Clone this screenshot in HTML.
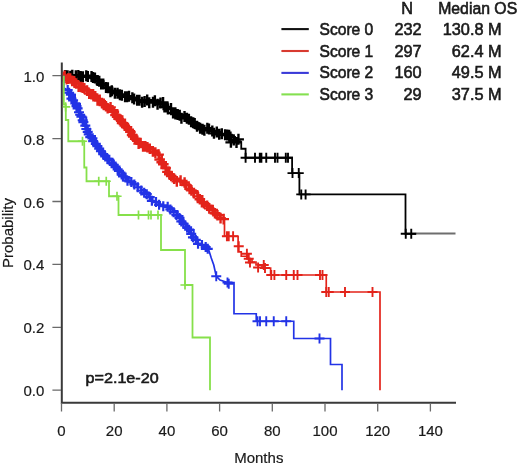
<!DOCTYPE html>
<html><head><meta charset="utf-8"><style>
html,body{margin:0;padding:0;background:#fff;}
body{width:520px;height:466px;overflow:hidden;font-family:"Liberation Sans",sans-serif;}
svg{display:block;filter:blur(0.45px);}
</style></head><body>
<svg width="520" height="466" viewBox="0 0 520 466">
<path d="M61.8 62.6V402.8H456" fill="none" stroke="#3a3a3a" stroke-width="2"/>
<path d="M52.4 75.7H61M52.4 138.6H61M52.4 201.5H61M52.4 264.4H61M52.4 327.3H61M52.4 390.2H61M61.5 403V411.5M114.2 403V411.5M166.9 403V411.5M219.6 403V411.5M272.3 403V411.5M325 403V411.5M377.7 403V411.5M430.4 403V411.5" stroke="#6a6a6a" stroke-width="1.3" fill="none"/>
<defs><clipPath id="pc"><rect x="62.8" y="60" width="400" height="340"/></clipPath></defs><g clip-path="url(#pc)">
<path d="M62.5 75.7 L65.62 75.7 L65.62 75.75 L68.75 75.75 L68.75 75.8 L71.88 75.8 L71.88 75.85 L75 75.85 L75 75.9 L78.4 75.9 L78.4 76.04 L81.8 76.04 L81.8 76.18 L85.2 76.18 L85.2 76.32 L88.6 76.32 L88.6 76.46 L92 76.46 L92 76.6 L97.5 76.6 L97.5 80.5 L103 80.5 L103 85.5 L106.5 85.5 L106.5 88 L110 88 L110 90.5 L113.5 90.5 L113.5 92 L117 92 L117 93.5 L121 93.5 L121 94.55 L125 94.55 L125 95.6 L128.67 95.6 L128.67 96.87 L132.33 96.87 L132.33 98.13 L136 98.13 L136 99.4 L139 99.4 L139 100.23 L142 100.23 L142 101.07 L145 101.07 L145 101.9 L148.33 101.9 L148.33 101.9 L151.67 101.9 L151.67 101.9 L155 101.9 L155 101.9 L158.75 101.9 L158.75 102.6 L162.5 102.6 L162.5 103.3 L167.5 103.3 L167.5 108.5 L171.25 108.5 L171.25 110.8 L175 110.8 L175 113.1 L178.75 113.1 L178.75 115.05 L182.5 115.05 L182.5 117 L187.5 117 L187.5 118.5 L190.62 118.5 L190.62 121 L193.75 121 L193.75 123.5 L198.75 123.5 L198.75 126.9 L203.12 126.9 L203.12 128.45 L207.5 128.45 L207.5 130 L211.25 130 L211.25 131.55 L215 131.55 L215 133.1 L218.5 133.1 L218.5 133.9 L222 133.9 L222 134.7 L225.75 134.7 L225.75 134.95 L229.5 134.95 L229.5 135.2 L231.5 135.2 L231.5 141.2 L234.75 141.2 L234.75 141.2 L238 141.2 L238 141.2 L241.25 141.2 L241.25 141.2" fill="none" stroke="#000000" stroke-width="2.0" stroke-linejoin="miter" stroke-linecap="butt"/>
<path d="M56.56 76.12h11M62.06 70.62v11M59.74 75.44h11M65.24 69.94v11M62.03 75.72h11M67.53 70.22v11M64.84 76.17h11M70.34 70.67v11M66.79 75.3h11M72.29 69.8v11M70.3 75.84h11M75.8 70.34v11M72.81 75.43h11M78.31 69.93v11M75.03 76.4h11M80.53 70.9v11M77.37 76.77h11M82.87 71.27v11M80.78 75.78h11M86.28 70.28v11M82.33 76.5h11M87.83 71v11M86.03 76.42h11M91.53 70.92v11M87.49 77.45h11M92.99 71.95v11M89.43 78.02h11M94.93 72.52v11M92.07 80.62h11M97.57 75.12v11M93.76 81.37h11M99.26 75.87v11M95.68 84h11M101.18 78.5v11M97.74 84.03h11M103.24 78.53v11M100.51 87.57h11M106.01 82.07v11M102.39 87.68h11M107.89 82.18v11M104.93 91.75h11M110.43 86.25v11M106.26 90.81h11M111.76 85.31v11M109.37 93.28h11M114.87 87.78v11M112.02 93.2h11M117.52 87.7v11M114.43 94.81h11M119.93 89.31v11M116.34 95.16h11M121.84 89.66v11M119.57 96.81h11M125.07 91.31v11M121.59 96.66h11M127.09 91.16v11M123.49 96.19h11M128.99 90.69v11M126.87 97.7h11M132.37 92.2v11M128.59 99.06h11M134.09 93.56v11M131.72 100.33h11M137.22 94.83v11M133.87 100.15h11M139.37 94.65v11M136.58 102.14h11M142.08 96.64v11M139.13 101.39h11M144.63 95.89v11M141.69 100.11h11M147.19 94.61v11M143.75 102.67h11M149.25 97.17v11M147.48 102.25h11M152.98 96.75v11M149.37 100.65h11M154.87 95.15v11M152.07 104.21h11M157.57 98.71v11M154.96 103.01h11M160.46 97.51v11M157.57 102.43h11M163.07 96.93v11M158.96 107.04h11M164.46 101.54v11M160.84 107.04h11M166.34 101.54v11M162.42 109.11h11M167.92 103.61v11M165.51 108.44h11M171.01 102.94v11M167.57 112.93h11M173.07 107.43v11M169.96 114.01h11M175.46 108.51v11M172.19 114.38h11M177.69 108.88v11M174.22 115.23h11M179.72 109.73v11M175.93 118.13h11M181.43 112.63v11M179.01 116.44h11M184.51 110.94v11M181.43 118.27h11M186.93 112.77v11M183.39 119.17h11M188.89 113.67v11M185.64 121.84h11M191.14 116.34v11M187.76 122.84h11M193.26 117.34v11M189.18 123.49h11M194.68 117.99v11M191.53 126.31h11M197.03 120.81v11M194.63 128.37h11M200.13 122.87v11M197.03 129.32h11M202.53 123.82v11M198.85 130.29h11M204.35 124.79v11M201.83 128.28h11M207.33 122.78v11M203.48 129.01h11M208.98 123.51v11M206.81 130.91h11M212.31 125.41v11M208.47 133.34h11M213.97 127.84v11M211.31 131.92h11M216.81 126.42v11M213.69 134.26h11M219.19 128.76v11M216.3 133.85h11M221.8 128.35v11M219.59 134.72h11M225.09 129.22v11M221.76 134.97h11M227.26 129.47v11M223.62 135.35h11M229.12 129.85v11M224.94 137.11h11M230.44 131.61v11M225.4 142.33h11M230.9 136.83v11M228.25 140.09h11M233.75 134.59v11M231 142.4h11M236.5 136.9v11M232.94 139.37h11M238.44 133.87v11" fill="none" stroke="#000000" stroke-width="2.4"/>
<path d="M241.25 141.2 L241.25 148.75 L245.6 148.75 L245.6 157.75 L292.1 157.75 L292.1 173.1 L299.4 173.1 L299.4 194.4 L405.5 194.4 L405.5 233.75 L416 233.75" fill="none" stroke="#000000" stroke-width="1.8" stroke-linejoin="miter" stroke-linecap="butt"/>
<path d="M416 233.6 L455.5 233.6" fill="none" stroke="#6e6e6e" stroke-width="2.0" stroke-linejoin="miter" stroke-linecap="butt"/>
<path d="M240.6 157.75h10M245.6 152.75v10M250 157.75h10M255 152.75v10M254.8 157.75h10M259.8 152.75v10M256.4 157.75h10M261.4 152.75v10M261.25 157.75h10M266.25 152.75v10M270 157.75h10M275 152.75v10M272.5 157.75h10M277.5 152.75v10M280.8 157.75h10M285.8 152.75v10M283 157.75h10M288 152.75v10M287.5 173.1h10M292.5 168.1v10M293.75 173.1h10M298.75 168.1v10M296.25 194.4h10M301.25 189.4v10M300.6 194.4h10M305.6 189.4v10M400.75 233.75h10M405.75 228.75v10M406.25 233.75h10M411.25 228.75v10" fill="none" stroke="#000000" stroke-width="1.9"/>
<path d="M63 76 L66.5 76 L66.5 77.5 L70 77.5 L70 79 L75 79 L75 83 L80 83 L80 86.5 L83.33 86.5 L83.33 88.67 L86.67 88.67 L86.67 90.83 L90 90.83 L90 93 L93.33 93 L93.33 95.67 L96.67 95.67 L96.67 98.33 L100 98.33 L100 101 L105 101 L105 105 L108.75 105 L108.75 107.5 L112.5 107.5 L112.5 110 L117.5 110 L117.5 116.25 L122.5 116.25 L122.5 122.5 L125.62 122.5 L125.62 126.75 L128.75 126.75 L128.75 131 L134 131 L134 137.5 L137 137.5 L137 140.7 L140 140.7 L140 143.9 L143 143.9 L143 145.95 L146 145.95 L146 148 L150 148 L150 149.5 L154 149.5 L154 150.5 L158 150.5 L158 155 L162 155 L162 162 L166 162 L166 167.5 L169 167.5 L169 172.25 L172 172.25 L172 177 L174 177 L174 180 L177 180 L177 180.75 L180 180.75 L180 181.5 L183 181.5 L183 183 L186 183 L186 184.5 L189 184.5 L189 187.75 L192 187.75 L192 191 L197.5 191 L197.5 196 L202.5 196 L202.5 203 L205.62 203 L205.62 205.25 L208.75 205.25 L208.75 207.5 L211.88 207.5 L211.88 210.62 L215 210.62 L215 213.75 L220 213.75 L220 218.75 L223.75 218.75 L223.75 219.4" fill="none" stroke="#e3231a" stroke-width="2.0" stroke-linejoin="miter" stroke-linecap="butt"/>
<path d="M58.25 77.25h10.6M63.55 71.95v10.6M59.38 75.79h10.6M64.68 70.49v10.6M62.71 78.63h10.6M68.01 73.33v10.6M64.9 78.46h10.6M70.2 73.16v10.6M66.86 80.92h10.6M72.16 75.62v10.6M68.86 81.29h10.6M74.16 75.99v10.6M70.78 83.52h10.6M76.08 78.22v10.6M73.3 86.72h10.6M78.6 81.42v10.6M75.75 86.95h10.6M81.05 81.65v10.6M77.35 87.61h10.6M82.65 82.31v10.6M79.06 88.37h10.6M84.36 83.07v10.6M81.78 90.62h10.6M87.08 85.32v10.6M83.88 93.66h10.6M89.18 88.36v10.6M86.14 94.29h10.6M91.44 88.99v10.6M87.82 94.42h10.6M93.12 89.12v10.6M89.96 96.36h10.6M95.26 91.06v10.6M92.21 100.4h10.6M97.51 95.1v10.6M94.44 99.73h10.6M99.74 94.43v10.6M96.73 103.08h10.6M102.03 97.78v10.6M98.58 105.01h10.6M103.88 99.71v10.6M100.68 106.26h10.6M105.98 100.96v10.6M102.36 108.24h10.6M107.66 102.94v10.6M105.25 107.38h10.6M110.55 102.08v10.6M107.17 110.38h10.6M112.47 105.08v10.6M108.53 111.8h10.6M113.83 106.5v10.6M110.19 114.94h10.6M115.49 109.64v10.6M111.83 116.71h10.6M117.13 111.41v10.6M113.27 118.88h10.6M118.57 113.58v10.6M115.55 119.73h10.6M120.85 114.43v10.6M116.78 123.05h10.6M122.08 117.75v10.6M118.55 123.93h10.6M123.85 118.63v10.6M119.51 125.61h10.6M124.81 120.31v10.6M121.65 127.29h10.6M126.95 121.99v10.6M123.46 129.7h10.6M128.76 124.4v10.6M125.1 131.89h10.6M130.4 126.59v10.6M126.82 135.07h10.6M132.12 129.77v10.6M127.94 136.6h10.6M133.24 131.3v10.6M129.86 138.79h10.6M135.16 133.49v10.6M131.26 139.66h10.6M136.56 134.36v10.6M133.32 143.63h10.6M138.62 138.33v10.6M135.35 143.05h10.6M140.65 137.75v10.6M137.75 146.35h10.6M143.05 141.05v10.6M140.02 146.34h10.6M145.32 141.04v10.6M142.14 147.19h10.6M147.44 141.89v10.6M144.5 148.72h10.6M149.8 143.42v10.6M147.57 151.35h10.6M152.87 146.05v10.6M150.09 152.66h10.6M155.39 147.36v10.6M153.32 154.64h10.6M158.62 149.34v10.6M154.35 159.57h10.6M159.65 154.27v10.6M156.41 162.26h10.6M161.71 156.96v10.6M158.02 164.2h10.6M163.32 158.9v10.6M160.31 167.98h10.6M165.61 162.68v10.6M162.13 171.83h10.6M167.43 166.53v10.6M163.99 174.25h10.6M169.29 168.95v10.6M165.91 175.98h10.6M171.21 170.68v10.6M168.85 178.71h10.6M174.15 173.41v10.6M171.52 181.34h10.6M176.82 176.04v10.6M175.29 180.58h10.6M180.59 175.28v10.6M179.29 182.52h10.6M184.59 177.22v10.6M181.1 185.1h10.6M186.4 179.8v10.6M184.25 188.87h10.6M189.55 183.57v10.6M186.1 190.4h10.6M191.4 185.1v10.6M188.66 193.15h10.6M193.96 187.85v10.6M192.22 196.4h10.6M197.52 191.1v10.6M194.54 199.32h10.6M199.84 194.02v10.6M196.59 202.11h10.6M201.89 196.81v10.6M198.65 203.3h10.6M203.95 198v10.6M201.83 205.68h10.6M207.13 200.38v10.6M203.97 208.35h10.6M209.27 203.05v10.6M207.45 210.01h10.6M212.75 204.71v10.6M209.66 213.31h10.6M214.96 208.01v10.6M212.15 215.18h10.6M217.45 209.88v10.6M215.25 218.08h10.6M220.55 212.78v10.6M218.38 219.14h10.6M223.68 213.84v10.6" fill="none" stroke="#e3231a" stroke-width="2.4"/>
<path d="M224.5 219.4 L224.5 236.25 L238.1 236.25 L238.1 251.9 L241.25 251.9 L241.25 256.25 L247 256.25 L247 259 L252 259 L252 262 L256 262 L256 265 L262 265 L262 268 L270.6 268 L270.6 275 L326.25 275 L326.25 292 L380 292 L380 390.2" fill="none" stroke="#e3231a" stroke-width="1.7" stroke-linejoin="miter" stroke-linecap="butt"/>
<path d="M61.5 79.5h10M66.5 74.5v10M59.5 78h10M64.5 73v10M221.9 236.25h10M226.9 231.25v10M223.75 236.25h10M228.75 231.25v10M228.1 236.25h10M233.1 231.25v10M233.75 246.25h10M238.75 241.25v10M241.9 253.75h10M246.9 248.75v10M243.75 258.75h10M248.75 253.75v10M245 262.5h10M250 257.5v10M253.1 267.5h10M258.1 262.5v10M258.75 265h10M263.75 260v10M260 268h10M265 263v10M266.25 275h10M271.25 270v10M269.4 275h10M274.4 270v10M281.25 275h10M286.25 270v10M288.75 275h10M293.75 270v10M292.5 275h10M297.5 270v10M315 275h10M320 270v10M317.5 275h10M322.5 270v10M321.25 292h10M326.25 287v10M323.75 292h10M328.75 287v10M340 292h10M345 287v10M367.5 292h10M372.5 287v10" fill="none" stroke="#e3231a" stroke-width="1.9"/>
<path d="M63.8 75.7 L63.8 88 L68 90" fill="none" stroke="#2233e6" stroke-width="1.8" stroke-linejoin="miter" stroke-linecap="butt"/>
<path d="M68 90 L70.5 90 L70.5 95 L75 95 L75 104 L80 104 L80 114 L81.25 114 L81.25 117.5 L86.25 117.5 L86.25 128.75 L90 128.75 L90 136 L95 136 L95 143.75 L98.12 143.75 L98.12 147.5 L101.25 147.5 L101.25 151.25 L104.38 151.25 L104.38 155 L107.5 155 L107.5 158.75 L112.5 158.75 L112.5 163.75 L116.25 163.75 L116.25 168.12 L120 168.12 L120 172.5 L124.38 172.5 L124.38 176.88 L128.75 176.88 L128.75 181.25 L133.12 181.25 L133.12 184.38 L137.5 184.38 L137.5 187.5 L141.25 187.5 L141.25 190 L145 190 L145 192.5 L148.75 192.5 L148.75 196.88 L152.5 196.88 L152.5 201.25 L156.25 201.25 L156.25 202.82 L160 202.82 L160 204.4 L163.12 204.4 L163.12 205.32 L166.25 205.32 L166.25 206.25 L169.38 206.25 L169.38 208.62 L172.5 208.62 L172.5 211 L177.5 211 L177.5 216 L182.5 216 L182.5 222.5 L185.62 222.5 L185.62 226.25 L188.75 226.25 L188.75 230 L193.75 230 L193.75 237.5 L197.5 237.5 L197.5 243.75 L201.25 243.75 L201.25 245 L205 245 L205 246.25 L208.75 246.25 L208.75 250" fill="none" stroke="#2233e6" stroke-width="2.0" stroke-linejoin="miter" stroke-linecap="butt"/>
<path d="M62.69 90.07h10M67.69 85.07v10M64.14 92.76h10M69.14 87.76v10M65.83 94.66h10M70.83 89.66v10M66.45 98.6h10M71.45 93.6v10M68.09 100.33h10M73.09 95.33v10M70.32 103.41h10M75.32 98.41v10M71.49 106.14h10M76.49 101.14v10M72.62 108.35h10M77.62 103.35v10M73.98 112.23h10M78.98 107.23v10M75.17 114.77h10M80.17 109.77v10M76.39 116.61h10M81.39 111.61v10M77.71 120.23h10M82.71 115.23v10M78.39 122.1h10M83.39 117.1v10M80.3 125.57h10M85.3 120.57v10M81.35 128.99h10M86.35 123.99v10M82.73 131.78h10M87.73 126.78v10M83.75 134.31h10M88.75 129.31v10M85.26 137.2h10M90.26 132.2v10M87.41 138.39h10M92.41 133.39v10M88.15 141.11h10M93.15 136.11v10M90.82 143.96h10M95.82 138.96v10M92.37 146.09h10M97.37 141.09v10M94.18 148.57h10M99.18 143.57v10M95.94 151.23h10M100.94 146.23v10M98.17 154.08h10M103.17 149.08v10M100.24 156.47h10M105.24 151.47v10M102.41 158.91h10M107.41 153.91v10M104.28 159.78h10M109.28 154.78v10M106.65 163.21h10M111.65 158.21v10M108.78 164.78h10M113.78 159.78v10M110.52 166.51h10M115.52 161.51v10M112.63 169.39h10M117.63 164.39v10M113.95 170.88h10M118.95 165.88v10M116.72 174.57h10M121.72 169.57v10M117.95 176.42h10M122.95 171.42v10M120.49 177.54h10M125.49 172.54v10M122.5 180.68h10M127.5 175.68v10M126.34 182.05h10M131.34 177.05v10M129.34 184.41h10M134.34 179.41v10M132.76 187.23h10M137.76 182.23v10M136.29 190.49h10M141.29 185.49v10M139.17 192.74h10M144.17 187.74v10M141.75 194.13h10M146.75 189.13v10M144.72 197.12h10M149.72 192.12v10M146.87 200.8h10M151.87 195.8v10M151.01 202.12h10M156.01 197.12v10M154.08 204.83h10M159.08 199.83v10M158.29 206.17h10M163.29 201.17v10M162.69 206.79h10M167.69 201.79v10M165.37 209.45h10M170.37 204.45v10M168.67 212.15h10M173.67 207.15v10M171.43 215.05h10M176.43 210.05v10M174.49 217.91h10M179.49 212.91v10M176.32 221.43h10M181.32 216.43v10M178.62 223.9h10M183.62 218.9v10M182.11 227.38h10M187.11 222.38v10M184.14 229.72h10M189.14 224.72v10M186.2 233.96h10M191.2 228.96v10M187.95 237.35h10M192.95 232.35v10M190.78 239.92h10M195.78 234.92v10M193.04 243.82h10M198.04 238.82v10M196.95 244.92h10M201.95 239.92v10M200.68 247.06h10M205.68 242.06v10M202.74 248.86h10M207.74 243.86v10" fill="none" stroke="#2233e6" stroke-width="2.2"/>
<path d="M208.75 250 L211.25 258 L213.75 265 L216.25 276.25 L220 280 L227.5 282.5 L234 282.5 L234 313.75 L256.25 313.75 L256.25 321.25 L293.75 321.25 L293.75 338.5 L330.5 338.5 L330.5 364.5 L342 364.5 L342 390.2" fill="none" stroke="#2233e6" stroke-width="1.7" stroke-linejoin="miter" stroke-linecap="butt"/>
<path d="M211.25 276.25h10M216.25 271.25v10M222.5 282.5h10M227.5 277.5v10M223.75 283.75h10M228.75 278.75v10M252.5 321.25h10M257.5 316.25v10M255 321.25h10M260 316.25v10M261.25 321.25h10M266.25 316.25v10M268.75 321.25h10M273.75 316.25v10M281.25 321.25h10M286.25 316.25v10M314.5 338.5h10M319.5 333.5v10" fill="none" stroke="#2233e6" stroke-width="1.9"/>
<path d="M63.8 75.7 L63.8 104.5 L65.8 104.5 L65.8 120 L68.3 120 L68.3 141.25 L84.25 141.25 L84.25 167.5 L86.5 167.5 L86.5 181.25 L109 181.25 L109 196.25 L118.5 196.25 L118.5 215 L161 215 L161 250 L185 250 L185 285 L192.5 285 L192.5 337.5 L210 337.5 L210 390.2" fill="none" stroke="#86e04a" stroke-width="1.8" stroke-linejoin="miter" stroke-linecap="butt"/>
<path d="M61 106.9h9.2M65.6 102.3v9.2M77.9 141.25h9.2M82.5 136.65v9.2M94.15 181.25h9.2M98.75 176.65v9.2M101.65 181.25h9.2M106.25 176.65v9.2M112.4 196.25h9.2M117 191.65v9.2M133.9 215h9.2M138.5 210.4v9.2M143.9 215h9.2M148.5 210.4v9.2M146.4 215h9.2M151 210.4v9.2M153.4 215h9.2M158 210.4v9.2M180.4 285h9.2M185 280.4v9.2" fill="none" stroke="#86e04a" stroke-width="1.7"/>
</g>
<path d="M281.4 29.1H308.8" stroke="#111" stroke-width="2.1"/>
<path d="M281.4 51H308.8" stroke="#d83a30" stroke-width="2.1"/>
<path d="M281.4 72.9H308.8" stroke="#3a3ad8" stroke-width="2.1"/>
<path d="M281.4 94.4H308.8" stroke="#84e050" stroke-width="2.1"/>
<g fill="#1a1a1a" font-family="Liberation Sans, sans-serif">
<text x="44.3" y="81.7" text-anchor="end" font-size="15" stroke="#1a1a1a" stroke-width="0.2">1.0</text>
<text x="44.3" y="144.6" text-anchor="end" font-size="15" stroke="#1a1a1a" stroke-width="0.2">0.8</text>
<text x="44.3" y="207.5" text-anchor="end" font-size="15" stroke="#1a1a1a" stroke-width="0.2">0.6</text>
<text x="44.3" y="270.4" text-anchor="end" font-size="15" stroke="#1a1a1a" stroke-width="0.2">0.4</text>
<text x="44.3" y="333.3" text-anchor="end" font-size="15" stroke="#1a1a1a" stroke-width="0.2">0.2</text>
<text x="44.3" y="396.2" text-anchor="end" font-size="15" stroke="#1a1a1a" stroke-width="0.2">0.0</text>
<text x="61.5" y="436" text-anchor="middle" font-size="15" stroke="#1a1a1a" stroke-width="0.2">0</text>
<text x="114.2" y="436" text-anchor="middle" font-size="15" stroke="#1a1a1a" stroke-width="0.2">20</text>
<text x="166.9" y="436" text-anchor="middle" font-size="15" stroke="#1a1a1a" stroke-width="0.2">40</text>
<text x="219.6" y="436" text-anchor="middle" font-size="15" stroke="#1a1a1a" stroke-width="0.2">60</text>
<text x="272.3" y="436" text-anchor="middle" font-size="15" stroke="#1a1a1a" stroke-width="0.2">80</text>
<text x="325" y="436" text-anchor="middle" font-size="15" stroke="#1a1a1a" stroke-width="0.2">100</text>
<text x="377.7" y="436" text-anchor="middle" font-size="15" stroke="#1a1a1a" stroke-width="0.2">120</text>
<text x="430.4" y="436" text-anchor="middle" font-size="15" stroke="#1a1a1a" stroke-width="0.2">140</text>
<text x="258.8" y="463" text-anchor="middle" font-size="15" stroke="#1a1a1a" stroke-width="0.2">Months</text>
<text transform="translate(12.5 233) rotate(-90)" text-anchor="middle" font-size="15" stroke="#1a1a1a" stroke-width="0.2">Probability</text>
<text x="85.6" y="382.7" font-size="14" stroke="#1a1a1a" stroke-width="0.55" textLength="73" lengthAdjust="spacingAndGlyphs">p=2.1e-20</text>
<text x="407.2" y="13.9" text-anchor="middle" font-size="16.3" stroke="#1a1a1a" stroke-width="0.6">N</text>
<text x="438.2" y="13.9" font-size="16.3" stroke="#1a1a1a" stroke-width="0.6" textLength="79" lengthAdjust="spacingAndGlyphs">Median OS</text>
<text x="319.5" y="34.6" font-size="16.3" stroke="#1a1a1a" stroke-width="0.6" textLength="53.8" lengthAdjust="spacingAndGlyphs">Score 0</text>
<text x="421.6" y="34.6" text-anchor="end" font-size="16.3" stroke="#1a1a1a" stroke-width="0.6">232</text>
<text x="501.6" y="34.6" text-anchor="end" font-size="16.3" stroke="#1a1a1a" stroke-width="0.6">130.8 M</text>
<text x="319.5" y="56.5" font-size="16.3" stroke="#1a1a1a" stroke-width="0.6" textLength="53.8" lengthAdjust="spacingAndGlyphs">Score 1</text>
<text x="421.6" y="56.5" text-anchor="end" font-size="16.3" stroke="#1a1a1a" stroke-width="0.6">297</text>
<text x="501.6" y="56.5" text-anchor="end" font-size="16.3" stroke="#1a1a1a" stroke-width="0.6">62.4 M</text>
<text x="319.5" y="78.3" font-size="16.3" stroke="#1a1a1a" stroke-width="0.6" textLength="53.8" lengthAdjust="spacingAndGlyphs">Score 2</text>
<text x="421.6" y="78.3" text-anchor="end" font-size="16.3" stroke="#1a1a1a" stroke-width="0.6">160</text>
<text x="501.6" y="78.3" text-anchor="end" font-size="16.3" stroke="#1a1a1a" stroke-width="0.6">49.5 M</text>
<text x="319.5" y="100.2" font-size="16.3" stroke="#1a1a1a" stroke-width="0.6" textLength="53.8" lengthAdjust="spacingAndGlyphs">Score 3</text>
<text x="421.6" y="100.2" text-anchor="end" font-size="16.3" stroke="#1a1a1a" stroke-width="0.6">29</text>
<text x="501.6" y="100.2" text-anchor="end" font-size="16.3" stroke="#1a1a1a" stroke-width="0.6">37.5 M</text>
</g>
</svg>
</body></html>
